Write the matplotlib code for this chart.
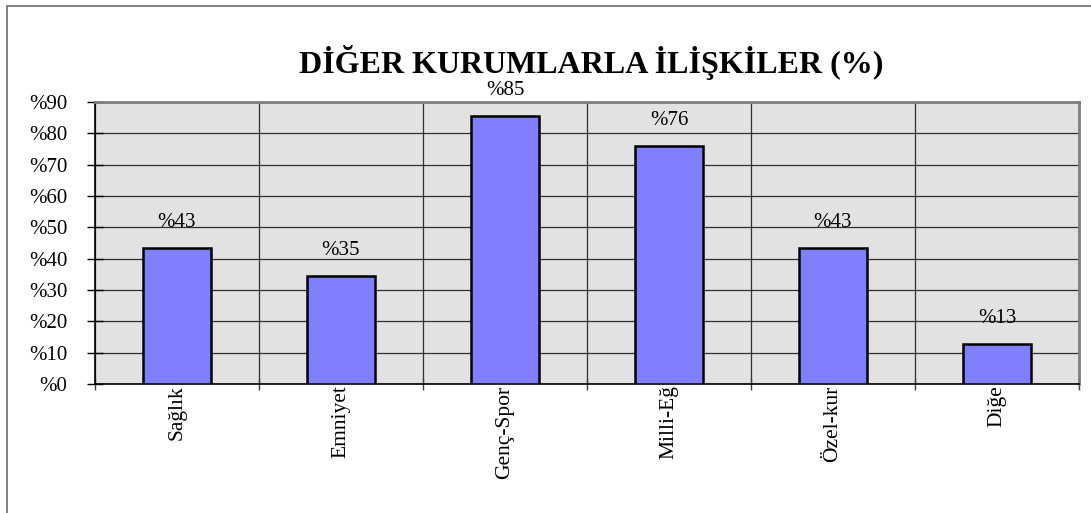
import matplotlib
matplotlib.use("Agg")
import matplotlib.pyplot as plt
from matplotlib.patches import Rectangle
import numpy as np

categories = ["Sağlık", "Emniyet", "Genç-Spor", "Milli-Eğ", "Özel-kur", "Diğe"]
values = [43.4, 34.6, 85.5, 76.1, 43.4, 12.8]
value_labels = ["%43", "%35", "%85", "%76", "%43", "%13"]
ytick_values = [0, 10, 20, 30, 40, 50, 60, 70, 80, 90]
ytick_labels = ["%" + str(v) for v in ytick_values]
title = "DİĞER KURUMLARLA İLİŞKİLER (%)"

W, H = 1091, 513
fig = plt.figure(figsize=(W / 100, H / 100), dpi=100)
fig.patch.set_facecolor("white")
serif = ["Liberation Serif", "DejaVu Serif"]

# outer chart border (left and top visible)
fig.add_artist(Rectangle((6.5 / W, -0.1), 1.2, (H - 5.5) / H + 0.1,
                         transform=fig.transFigure, fill=False,
                         edgecolor="#7a7a7a", linewidth=1.3))

left, right, top, bottom = 95, 1079, 102, 384
ax = fig.add_axes([left / W, 1 - bottom / H, (right - left) / W, (bottom - top) / H])
ax.set_facecolor("#e2e2e2")

n = len(categories)
x = np.arange(n)
ax.bar(x, values, width=0.41, color="#8080ff", edgecolor="black", linewidth=1.8, zorder=3)

for xi, v, lab in zip(x, values, value_labels):
    ax.text(xi, v + 5.0, lab, ha="center", va="bottom", fontsize=15,
            family=serif, color="black", zorder=4)

ax.set_xlim(-0.5, n - 0.5)
ax.set_ylim(0, 90)
ax.set_yticks(ytick_values)
ax.set_yticklabels(ytick_labels, family=serif, fontsize=15)
ax.set_xticks(x)
ax.set_xticklabels(categories, rotation=90, family=serif, fontsize=15.5, va="top")
ax.set_xticks(np.arange(n + 1) - 0.5, minor=True)

ax.tick_params(axis="x", which="major", length=0, pad=1)
ax.tick_params(axis="x", which="minor", direction="inout", length=9, width=1, color="#404040")
ax.tick_params(axis="y", which="major", direction="inout", length=12, width=1, pad=14)

ax.grid(axis="y", which="major", color="#303030", linewidth=0.9, zorder=1)
ax.grid(axis="x", which="minor", color="#303030", linewidth=0.9, zorder=1)
ax.set_axisbelow(True)

ax.spines["left"].set_color("black")
ax.spines["bottom"].set_color("black")
ax.spines["left"].set_linewidth(1.2)
ax.spines["bottom"].set_linewidth(1.2)
ax.spines["top"].set_color("#808080")
ax.spines["right"].set_color("#808080")
ax.spines["top"].set_linewidth(2)
ax.spines["right"].set_linewidth(2)

fig.text(591 / W, 1 - 62 / H, title, ha="center", va="center",
         fontsize=23, fontweight="bold", family=serif)

fig.savefig("out.png", dpi=100)
